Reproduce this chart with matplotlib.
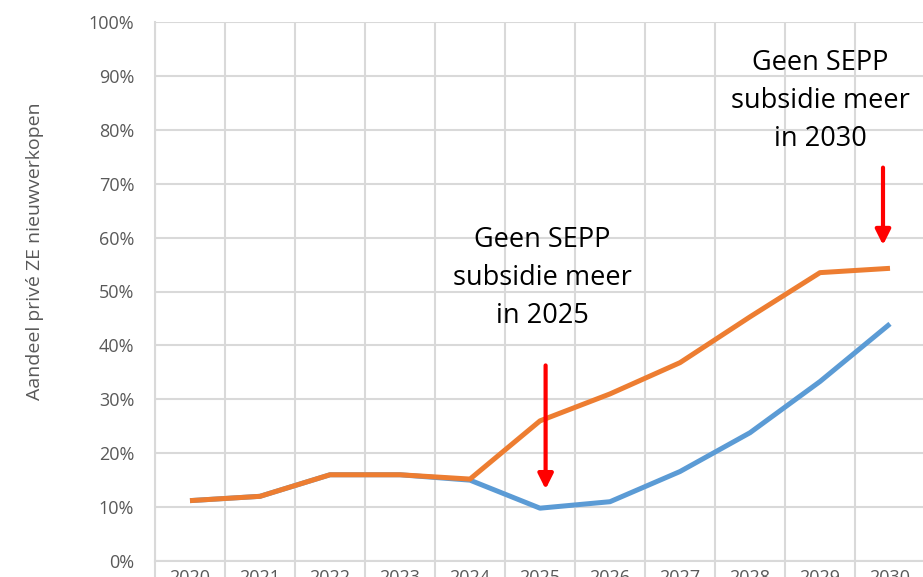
import matplotlib
matplotlib.use("Agg")
import matplotlib.pyplot as plt
import numpy as np

# Data
years = ["2020", "2021", "2022", "2023", "2024", "2025", "2026", "2027", "2028", "2029", "2030"]
met_sepp = [11.2, 12.0, 16.0, 16.0, 15.2, 26.0, 31.0, 36.8, 45.3, 53.5, 54.3]
zonder_sepp = [11.2, 12.0, 16.0, 16.0, 15.0, 9.8, 11.0, 16.6, 23.8, 33.3, 44.0]
y_ticks = [0, 10, 20, 30, 40, 50, 60, 70, 80, 90, 100]

plt.rcParams['font.family'] = ['Open Sans', 'DejaVu Sans']

fig = plt.figure(figsize=(9.23, 5.77), dpi=100)
ax = fig.add_axes([155/923, 16/577, 770/923, 539/577])

x = np.arange(len(years))
grid_col = '#d9d9d9'

# Lines (orange on top)
ax.plot(x, zonder_sepp, color='#5b9bd5', lw=3.6, solid_capstyle='butt', zorder=3)
ax.plot(x, met_sepp, color='#ed7d31', lw=3.6, solid_capstyle='butt', zorder=4)

ax.set_xlim(-0.5, len(years) - 0.5)
ax.set_ylim(0, 100)

# Gridlines: horizontal at percent ticks, vertical at category borders
ax.set_yticks(y_ticks)
ax.set_yticklabels(["{0}%".format(v) for v in y_ticks])
ax.set_xticks(np.arange(-0.5, len(years), 1.0))
ax.set_xticklabels([])
ax.set_xticks(x, minor=True)
ax.set_xticklabels(years, minor=True)
ax.grid(True, which='major', color=grid_col, lw=1.5, zorder=0)

ax.tick_params(axis='y', length=0, pad=15, labelsize=13, labelcolor='#595959')
ax.tick_params(axis='x', which='major', length=18, color=grid_col, width=1.5)
ax.tick_params(axis='x', which='minor', length=0, pad=6, labelsize=13, labelcolor='#595959')

for s in ['top', 'right']:
    ax.spines[s].set_visible(False)
for s in ['left', 'bottom']:
    ax.spines[s].set_color(grid_col)
    ax.spines[s].set_linewidth(1.5)

ax.set_ylabel("Aandeel privé ZE nieuwverkopen", fontsize=14, color='#595959')
ax.yaxis.set_label_coords(-0.144, 0.575)

# Annotations
ax.text(5.03, 52.5, "Geen SEPP\nsubsidie meer\nin 2025", ha='center', va='center',
        fontsize=19.5, linespacing=1.48, color='black', zorder=5)
ax.text(9.0, 85.3, "Geen SEPP\nsubsidie meer\nin 2030", ha='center', va='center',
        fontsize=19.5, linespacing=1.48, color='black', zorder=5)

arrow_kw = dict(arrowstyle='-|>,head_length=0.9,head_width=0.45', color='#ff0000', lw=3)
ax.annotate("", xy=(5.08, 12.8), xytext=(5.08, 36.8), arrowprops=arrow_kw, zorder=6)
ax.annotate("", xy=(9.9, 58.1), xytext=(9.9, 73.5), arrowprops=arrow_kw, zorder=6)

plt.savefig("out.png", dpi=100)
